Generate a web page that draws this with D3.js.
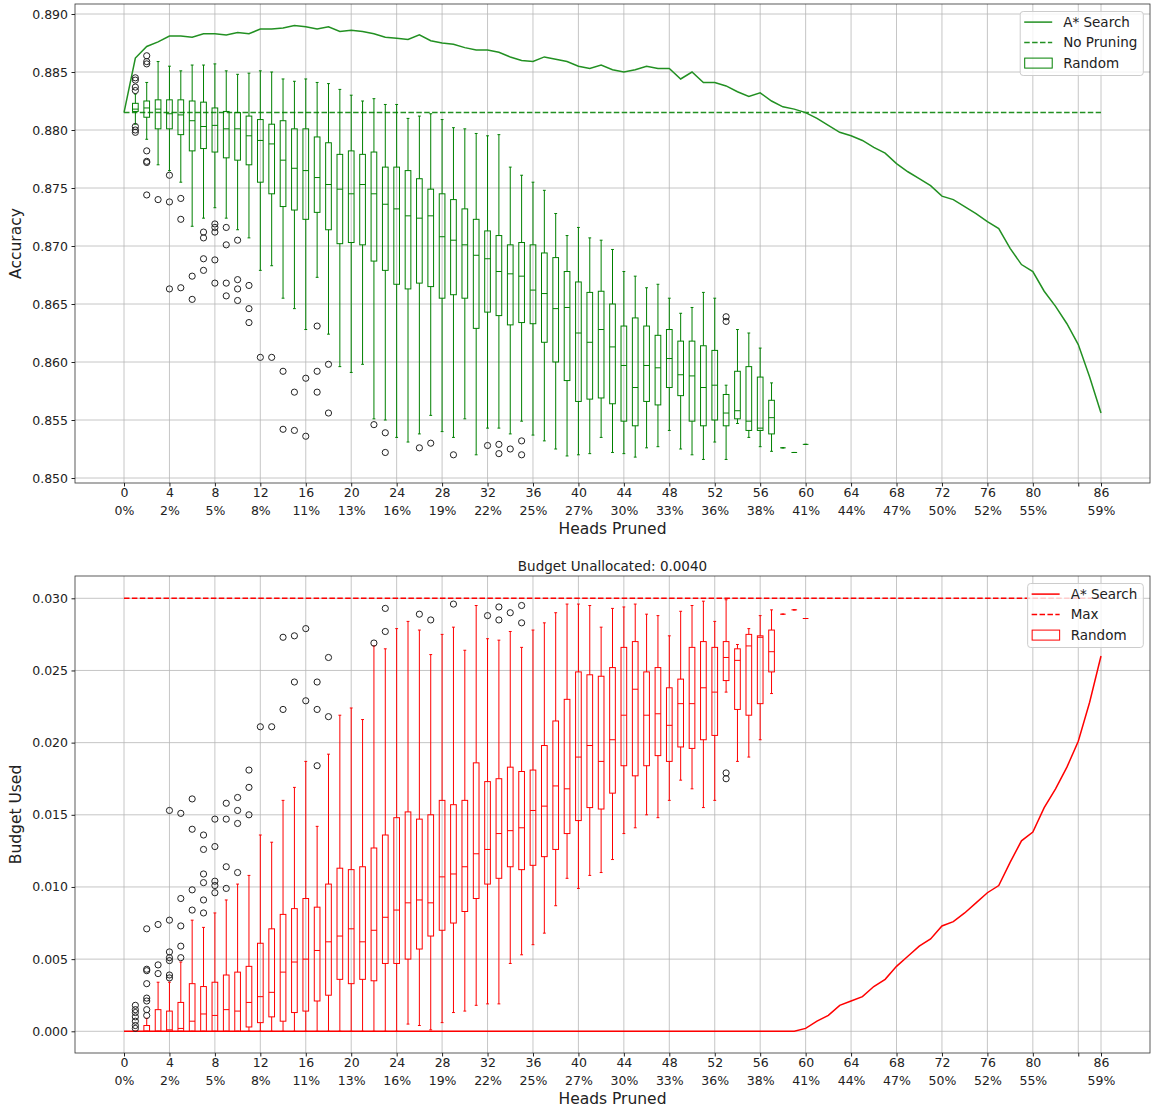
<!DOCTYPE html>
<html>
<head>
<meta charset="utf-8">
<script src="https://d3js.org/d3.v7.min.js"></script>
<style>
body { margin: 0; background: white; }
text { font-family: "DejaVu Sans", sans-serif; }
</style>
</head>
<body>
<svg id="chart" width="1152" height="1109"></svg>
<script>
// ---- data ----
var headsPruned = d3.range(0, 87);          // A* search points, 0..86 heads
var boxPositions = d3.range(1, 61);         // random pruning boxes, 1..60 heads

var xTickValues  = [0, 4, 8, 12, 16, 20, 24, 28, 32, 36, 40, 44, 48, 52, 56, 60, 64, 68, 72, 76, 80, 84, 86];
var xTickNumbers = ["0","4","8","12","16","20","24","28","32","36","40","44","48","52","56","60","64","68","72","76","80","","86"];
var xTickPercent = ["0%","2%","5%","8%","11%","13%","16%","19%","22%","25%","27%","30%","33%","36%","38%","41%","44%","47%","50%","52%","55%","","59%"];

var accTicks    = [0.850, 0.855, 0.860, 0.865, 0.870, 0.875, 0.880, 0.885, 0.890];
var budgetTicks = [0.000, 0.005, 0.010, 0.015, 0.020, 0.025, 0.030];

var noPruningAcc = 0.8815;
var maxBudget = 0.030;
var budgetUnallocated = 0.0040;

var astarAcc = [0.8815, 0.8862, 0.8872, 0.8876, 0.8881, 0.8881, 0.8880, 0.8883, 0.8883, 0.8882,
  0.8884, 0.8883, 0.8887, 0.8887, 0.8888, 0.8890, 0.8889, 0.8887, 0.8889, 0.8885,
  0.8886, 0.8885, 0.8883, 0.8880, 0.8879, 0.8878, 0.8882, 0.8877, 0.8875, 0.8874,
  0.8871, 0.8869, 0.8869, 0.8867, 0.8863, 0.8860, 0.8859, 0.8863, 0.8861, 0.8859,
  0.8855, 0.8853, 0.8856, 0.8852, 0.8850, 0.8852, 0.8855, 0.8853, 0.8853, 0.8844,
  0.8850, 0.8841, 0.8841, 0.8838, 0.8833, 0.8829, 0.8832, 0.8825, 0.8820, 0.8818,
  0.8815, 0.8810, 0.8804, 0.8798, 0.8795, 0.8791, 0.8785, 0.8780, 0.8771, 0.8764,
  0.8758, 0.8752, 0.8743, 0.8740, 0.8734, 0.8728, 0.8721, 0.8715, 0.8698, 0.8684,
  0.8678, 0.8661, 0.8648, 0.8633, 0.8615, 0.8587, 0.8556];

var astarBudget = [0, 0, 0, 0, 0, 0, 0, 0, 0, 0,
  0, 0, 0, 0, 0, 0, 0, 0, 0, 0,
  0, 0, 0, 0, 0, 0, 0, 0, 0, 0,
  0, 0, 0, 0, 0, 0, 0, 0, 0, 0,
  0, 0, 0, 0, 0, 0, 0, 0, 0, 0,
  0, 0, 0, 0, 0, 0, 0, 0, 0, 0,
  0.0002, 0.0007, 0.0011, 0.0018, 0.0021, 0.0024, 0.0031, 0.0036, 0.0045, 0.0052,
  0.0059, 0.0064, 0.0073, 0.0076, 0.0082, 0.0089, 0.0096, 0.0101, 0.0117, 0.0132,
  0.0138, 0.0155, 0.0168, 0.0183, 0.0201, 0.0228, 0.0260];

// [lower whisker, q1, median, q3, upper whisker]
var randomAccStats = [
  [0.8805, 0.8816, 0.8818, 0.8823, 0.8831], [0.8792, 0.8811, 0.8819, 0.8825, 0.8841],
  [0.8770, 0.8801, 0.8818, 0.8826, 0.8859], [0.8765, 0.8801, 0.8814, 0.8826, 0.8855],
  [0.8755, 0.8796, 0.8813, 0.8826, 0.8851], [0.8717, 0.8782, 0.8808, 0.8825, 0.8856],
  [0.8724, 0.8784, 0.8803, 0.8824, 0.8856], [0.8733, 0.8781, 0.8804, 0.8819, 0.8857],
  [0.8724, 0.8776, 0.8801, 0.8816, 0.8851], [0.8714, 0.8774, 0.8801, 0.8815, 0.8848],
  [0.8707, 0.8770, 0.8795, 0.8812, 0.8849], [0.8679, 0.8755, 0.8791, 0.8809, 0.8851],
  [0.8683, 0.8745, 0.8788, 0.8805, 0.8850], [0.8655, 0.8734, 0.8774, 0.8808, 0.8844],
  [0.8646, 0.8731, 0.8767, 0.8801, 0.8842], [0.8628, 0.8723, 0.8765, 0.8801, 0.8844],
  [0.8673, 0.8729, 0.8759, 0.8794, 0.8841], [0.8624, 0.8714, 0.8753, 0.8789, 0.8840],
  [0.8596, 0.8702, 0.8749, 0.8779, 0.8835], [0.8591, 0.8703, 0.8745, 0.8782, 0.8830],
  [0.8598, 0.8701, 0.8753, 0.8779, 0.8825], [0.8551, 0.8687, 0.8745, 0.8781, 0.8827],
  [0.8550, 0.8679, 0.8736, 0.8768, 0.8822], [0.8535, 0.8667, 0.8732, 0.8768, 0.8822],
  [0.8531, 0.8663, 0.8726, 0.8765, 0.8810], [0.8538, 0.8668, 0.8724, 0.8758, 0.8812],
  [0.8554, 0.8665, 0.8726, 0.8749, 0.8814], [0.8540, 0.8655, 0.8708, 0.8745, 0.8809],
  [0.8535, 0.8658, 0.8705, 0.8740, 0.8802], [0.8551, 0.8655, 0.8701, 0.8732, 0.8801],
  [0.8520, 0.8629, 0.8692, 0.8723, 0.8797], [0.8543, 0.8643, 0.8689, 0.8713, 0.8795],
  [0.8543, 0.8640, 0.8678, 0.8709, 0.8796], [0.8538, 0.8632, 0.8676, 0.8701, 0.8768],
  [0.8549, 0.8634, 0.8674, 0.8703, 0.8761], [0.8537, 0.8633, 0.8662, 0.8701, 0.8755],
  [0.8532, 0.8617, 0.8659, 0.8694, 0.8748], [0.8525, 0.8600, 0.8646, 0.8690, 0.8728],
  [0.8519, 0.8584, 0.8647, 0.8678, 0.8709], [0.8520, 0.8566, 0.8625, 0.8669, 0.8716],
  [0.8521, 0.8568, 0.8617, 0.8660, 0.8707], [0.8535, 0.8569, 0.8628, 0.8661, 0.8705],
  [0.8522, 0.8564, 0.8613, 0.8650, 0.8697], [0.8521, 0.8549, 0.8597, 0.8631, 0.8678],
  [0.8518, 0.8545, 0.8578, 0.8638, 0.8674], [0.8526, 0.8566, 0.8597, 0.8631, 0.8664],
  [0.8527, 0.8563, 0.8595, 0.8623, 0.8667], [0.8541, 0.8578, 0.8603, 0.8628, 0.8655],
  [0.8525, 0.8571, 0.8589, 0.8618, 0.8642], [0.8520, 0.8549, 0.8588, 0.8618, 0.8647],
  [0.8516, 0.8545, 0.8578, 0.8614, 0.8660], [0.8531, 0.8550, 0.8580, 0.8610, 0.8655],
  [0.8516, 0.8545, 0.8556, 0.8572, 0.8580], [0.8547, 0.8551, 0.8558, 0.8592, 0.8628],
  [0.8535, 0.8541, 0.8549, 0.8596, 0.8625], [0.8527, 0.8541, 0.8543, 0.8587, 0.8612],
  [0.8523, 0.8538, 0.8552, 0.8567, 0.8582], [0.8526, 0.8526, 0.8526, 0.8526, 0.8526],
  [0.8522, 0.8522, 0.8522, 0.8522, 0.8522], [0.8529, 0.8529, 0.8529, 0.8529, 0.8529]];

var randomAccOutliers = [
  [0.8845, 0.8843, 0.8837, 0.8834, 0.8803, 0.8800, 0.8798],
  [0.8864, 0.8859, 0.8857, 0.8782, 0.8773, 0.8772, 0.8744],
  [0.8740], [0.8761, 0.8738, 0.8663], [0.8741, 0.8723, 0.8664], [0.8674, 0.8654],
  [0.8712, 0.8707, 0.8689, 0.8679], [0.8719, 0.8716, 0.8712, 0.8688, 0.8668],
  [0.8716, 0.8701, 0.8668, 0.8657], [0.8705, 0.8671, 0.8663, 0.8653],
  [0.8666, 0.8646, 0.8634], [0.8604], [0.8604], [0.8592, 0.8542], [0.8574, 0.8541],
  [0.8586, 0.8536], [0.8631, 0.8592, 0.8574], [0.8598, 0.8556], [], [],
  [], [0.8546], [0.8539, 0.8522], [], [], [0.8526], [0.8530], [], [0.8520], [],
  [], [0.8528], [0.8529, 0.8521], [0.8525], [0.8532, 0.8520], [], [], [], [], [],
  [], [], [], [], [], [], [], [], [], [],
  [], [], [0.8639, 0.8635], [], [], [], [], [], [], []];

var randomBudgetStats = [
  [0, 0, 0, 0, 0], [0, 0, 0, 0.0004, 0.0009],
  [0, 0, 0, 0.0015, 0.0034], [0, 0, 0.0001, 0.0014, 0.0034],
  [0, 0, 0.0002, 0.0020, 0.0048], [0, 0, 0.0007, 0.0033, 0.0077],
  [0, 0, 0.0012, 0.0031, 0.0072], [0, 0, 0.0011, 0.0034, 0.0082],
  [0, 0, 0.0015, 0.0039, 0.0091], [0, 0, 0.0014, 0.0041, 0.0102],
  [0, 0.0003, 0.0020, 0.0045, 0.0108], [0, 0.0006, 0.0024, 0.0061, 0.0136],
  [0, 0.0010, 0.0027, 0.0071, 0.0131], [0, 0.0007, 0.0041, 0.0081, 0.0160],
  [0, 0.0013, 0.0048, 0.0085, 0.0169], [0, 0.0014, 0.0050, 0.0092, 0.0187],
  [0, 0.0021, 0.0056, 0.0086, 0.0142], [0, 0.0025, 0.0062, 0.0102, 0.0192],
  [0, 0.0036, 0.0066, 0.0113, 0.0219], [0, 0.0033, 0.0071, 0.0112, 0.0224],
  [0, 0.0036, 0.0062, 0.0114, 0.0216], [0, 0.0035, 0.0070, 0.0127, 0.0267],
  [0, 0.0047, 0.0079, 0.0136, 0.0265], [0, 0.0047, 0.0084, 0.0148, 0.0279],
  [0.0005, 0.0050, 0.0089, 0.0152, 0.0284], [0.0004, 0.0057, 0.0091, 0.0147, 0.0278],
  [0.0001, 0.0066, 0.0089, 0.0150, 0.0261], [0.0006, 0.0070, 0.0107, 0.0160, 0.0275],
  [0.0013, 0.0075, 0.0109, 0.0157, 0.0280], [0.0014, 0.0083, 0.0114, 0.0160, 0.0264],
  [0.0018, 0.0092, 0.0123, 0.0186, 0.0295], [0.0019, 0.0102, 0.0126, 0.0173, 0.0272],
  [0.0019, 0.0106, 0.0137, 0.0175, 0.0271], [0.0047, 0.0114, 0.0139, 0.0183, 0.0277],
  [0.0053, 0.0112, 0.0141, 0.0180, 0.0266], [0.0060, 0.0115, 0.0153, 0.0181, 0.0278],
  [0.0068, 0.0121, 0.0156, 0.0198, 0.0283], [0.0087, 0.0126, 0.0170, 0.0215, 0.0290],
  [0.0106, 0.0137, 0.0168, 0.0230, 0.0296], [0.0099, 0.0146, 0.0190, 0.0249, 0.0296],
  [0.0108, 0.0155, 0.0198, 0.0247, 0.0295], [0.0110, 0.0154, 0.0187, 0.0246, 0.0280],
  [0.0119, 0.0165, 0.0202, 0.0252, 0.0293], [0.0137, 0.0184, 0.0219, 0.0266, 0.0294],
  [0.0141, 0.0177, 0.0237, 0.0270, 0.0296], [0.0150, 0.0184, 0.0219, 0.0249, 0.0289],
  [0.0148, 0.0191, 0.0220, 0.0252, 0.0288], [0.0160, 0.0187, 0.0212, 0.0238, 0.0274],
  [0.0174, 0.0197, 0.0227, 0.0244, 0.0291], [0.0168, 0.0196, 0.0227, 0.0266, 0.0295],
  [0.0155, 0.0202, 0.0238, 0.0270, 0.0298], [0.0160, 0.0205, 0.0235, 0.0266, 0.0284],
  [0.0235, 0.0243, 0.0259, 0.0270, 0.0299], [0.0187, 0.0223, 0.0257, 0.0265, 0.0268],
  [0.0190, 0.0219, 0.0267, 0.0275, 0.0279], [0.0202, 0.0227, 0.0273, 0.0274, 0.0288],
  [0.0234, 0.0249, 0.0263, 0.0278, 0.0292], [0.0289, 0.0289, 0.0289, 0.0289, 0.0289],
  [0.0292, 0.0292, 0.0292, 0.0292, 0.0292], [0.0286, 0.0286, 0.0286, 0.0286, 0.0286]];

var randomBudgetOutliers = [
  [0.0018, 0.0015, 0.0013, 0.0010, 0.0007, 0.0004, 0.0002],
  [0.0011, 0.0015, 0.0021, 0.0023, 0.0033, 0.0042, 0.0043, 0.0071],
  [0.0040, 0.0046, 0.0074], [0.0037, 0.0039, 0.0049, 0.0051, 0.0055, 0.0077, 0.0153],
  [0.0051, 0.0059, 0.0073, 0.0092, 0.0151], [0.0084, 0.0098, 0.0140, 0.0161],
  [0.0082, 0.0091, 0.0103, 0.0109, 0.0126, 0.0136], [0.0096, 0.0101, 0.0104, 0.0128, 0.0147],
  [0.0099, 0.0114, 0.0147, 0.0158], [0.0110, 0.0144, 0.0153, 0.0162],
  [0.0150, 0.0169, 0.0181], [0.0211], [0.0211], [0.0223, 0.0273], [0.0242, 0.0274],
  [0.0229, 0.0279], [0.0184, 0.0223, 0.0242], [0.0218, 0.0259], [], [],
  [], [0.0269], [0.0277, 0.0293], [], [], [0.0289], [0.0285], [], [0.0296], [],
  [], [0.0288], [0.0294, 0.0285], [0.0290], [0.0295, 0.0283], [], [], [], [], [],
  [], [], [], [], [], [], [], [], [], [],
  [], [], [0.0179, 0.0175], [], [], [], [], [], [], []];

// ---- layout ----
var plotLeft = 75, plotRight = 1150;
var svg = d3.select("#chart");
var x = d3.scaleLinear().domain([0, 86]).range([124, 1101]);
var boxW = x(0.5) - x(0);

function drawPanel(p) {
  var y = d3.scaleLinear().domain(p.yDomain).range(p.yRange);
  var g = svg.append("g");

  // grid
  g.append("g").selectAll("line").data(xTickValues).join("line")
    .attr("x1", d => x(d)).attr("x2", d => x(d))
    .attr("y1", p.top).attr("y2", p.bottom)
    .attr("stroke", "#b8b8b8").attr("stroke-width", 0.8);
  g.append("g").selectAll("line").data(p.yTicks).join("line")
    .attr("x1", plotLeft).attr("x2", plotRight)
    .attr("y1", d => y(d)).attr("y2", d => y(d))
    .attr("stroke", "#b8b8b8").attr("stroke-width", 0.8);

  // reference dashed line
  g.append("line")
    .attr("x1", x(headsPruned[0])).attr("x2", x(headsPruned[headsPruned.length - 1]))
    .attr("y1", y(p.refValue)).attr("y2", y(p.refValue))
    .attr("stroke", p.color).attr("stroke-width", 1.5)
    .attr("stroke-dasharray", "5.5,2.4");

  // boxplots
  var boxes = g.append("g")
    .attr("stroke", p.boxColor).attr("stroke-width", 1).attr("fill", "none")
    .selectAll("g").data(p.stats).join("g")
    .attr("transform", (d, i) => "translate(" + x(boxPositions[i]) + ",0)");
  boxes.append("line").attr("y1", d => y(d[0])).attr("y2", d => y(d[1]));
  boxes.append("line").attr("y1", d => y(d[3])).attr("y2", d => y(d[4]));
  boxes.append("line").attr("x1", -boxW / 4).attr("x2", boxW / 4)
    .attr("y1", d => y(d[0])).attr("y2", d => y(d[0]));
  boxes.append("line").attr("x1", -boxW / 4).attr("x2", boxW / 4)
    .attr("y1", d => y(d[4])).attr("y2", d => y(d[4]));
  boxes.append("rect").attr("x", -boxW / 2).attr("width", boxW)
    .attr("y", d => y(d[3])).attr("height", d => y(d[1]) - y(d[3]));
  boxes.append("line").attr("x1", -boxW / 2).attr("x2", boxW / 2)
    .attr("y1", d => y(d[2])).attr("y2", d => y(d[2]));

  // A* search line
  g.append("path").datum(p.line)
    .attr("d", d3.line().x((d, i) => x(headsPruned[i])).y(d => y(d)))
    .attr("fill", "none").attr("stroke", p.color).attr("stroke-width", 1.5);

  // outliers
  var pts = [];
  p.outliers.forEach(function(arr, i) {
    arr.forEach(function(v) { pts.push([boxPositions[i], v]); });
  });
  g.append("g").selectAll("circle").data(pts).join("circle")
    .attr("cx", d => x(d[0])).attr("cy", d => y(d[1])).attr("r", 3.1)
    .attr("fill", "none").attr("stroke", "#222").attr("stroke-width", 1);

  // spines
  g.append("rect").attr("x", plotLeft).attr("y", p.top)
    .attr("width", plotRight - plotLeft).attr("height", p.bottom - p.top)
    .attr("fill", "none").attr("stroke", "#333").attr("stroke-width", 0.8);

  // y axis
  var ya = g.append("g").attr("transform", "translate(" + plotLeft + ",0)")
    .call(d3.axisLeft(y).tickValues(p.yTicks).tickFormat(d3.format(".3f"))
      .tickSize(3.5).tickPadding(3.5));
  ya.select(".domain").remove();
  ya.attr("font-family", "DejaVu Sans").attr("font-size", 12.5).attr("color", "#222");

  // x axis
  var xa = g.append("g").attr("transform", "translate(0," + p.bottom + ")")
    .call(d3.axisBottom(x).tickValues(xTickValues).tickFormat("").tickSize(3.5));
  xa.select(".domain").remove();
  xa.attr("color", "#222");
  xa.selectAll(".tick text").remove();
  xa.selectAll(".tick").each(function(d) {
    var k = xTickValues.indexOf(d);
    var t = d3.select(this).append("text").attr("fill", "#222")
      .attr("font-family", "DejaVu Sans").attr("font-size", 12.5).attr("text-anchor", "middle");
    t.append("tspan").attr("x", 0).attr("y", 14).text(xTickNumbers[k]);
    t.append("tspan").attr("x", 0).attr("y", 32).text(xTickPercent[k]);
  });

  // axis labels
  svg.append("text").attr("x", (plotLeft + plotRight) / 2).attr("y", p.bottom + 50.5)
    .attr("text-anchor", "middle").attr("font-size", 15.5).attr("fill", "#222")
    .text("Heads Pruned");
  svg.append("text")
    .attr("transform", "translate(21," + (p.top + p.bottom) / 2 + ") rotate(-90)")
    .attr("text-anchor", "middle").attr("font-size", 15.5).attr("fill", "#222")
    .text(p.yLabel);

  if (p.title) {
    svg.append("text").attr("x", (plotLeft + plotRight) / 2).attr("y", p.top - 5)
      .attr("text-anchor", "middle").attr("font-size", 13.5).attr("fill", "#222")
      .text(p.title);
  }

  // legend
  var lg = svg.append("g");
  var frame = lg.append("rect").attr("rx", 3)
    .attr("fill", "white").attr("fill-opacity", 0.8)
    .attr("stroke", "#cccccc").attr("stroke-width", 1);
  var maxLen = 0;
  p.legend.forEach(function(name, i) {
    var t = lg.append("text").attr("x", 43).attr("y", 10.6 + i * 20.5).attr("dy", "0.35em")
      .attr("font-size", 13.5).attr("fill", "#222").text(name);
    maxLen = Math.max(maxLen, t.node().getComputedTextLength());
  });
  var hy = function(i) { return 10.6 + i * 20.5; };
  lg.append("line").attr("x1", 4).attr("x2", 32).attr("y1", hy(0)).attr("y2", hy(0))
    .attr("stroke", p.color).attr("stroke-width", 1.5);
  lg.append("line").attr("x1", 4).attr("x2", 32).attr("y1", hy(1)).attr("y2", hy(1))
    .attr("stroke", p.color).attr("stroke-width", 1.5).attr("stroke-dasharray", "5.5,2.4");
  lg.append("rect").attr("x", 4.5).attr("width", 27.5).attr("y", hy(2) - 5).attr("height", 10)
    .attr("fill", "none").attr("stroke", p.boxColor).attr("stroke-width", 1);
  var lw = 43 + maxLen + 6;
  frame.attr("width", lw).attr("height", 64);
  lg.attr("transform", "translate(" + (1143.3 - lw) + "," + (p.top + 7.5) + ")");
}

drawPanel({
  top: 4, bottom: 483,
  yDomain: [0.850, 0.890], yRange: [478, 14], yTicks: accTicks,
  color: "#229022", boxColor: "green",
  refValue: noPruningAcc, line: astarAcc,
  stats: randomAccStats, outliers: randomAccOutliers,
  yLabel: "Accuracy", title: null,
  legend: ["A* Search", "No Pruning", "Random"]
});

drawPanel({
  top: 576, bottom: 1053,
  yDomain: [0, 0.030], yRange: [1031.3, 598.3], yTicks: budgetTicks,
  color: "red", boxColor: "red",
  refValue: maxBudget, line: astarBudget,
  stats: randomBudgetStats, outliers: randomBudgetOutliers,
  yLabel: "Budget Used", title: "Budget Unallocated: " + budgetUnallocated.toFixed(4),
  legend: ["A* Search", "Max", "Random"]
});
</script>
</body>
</html>
